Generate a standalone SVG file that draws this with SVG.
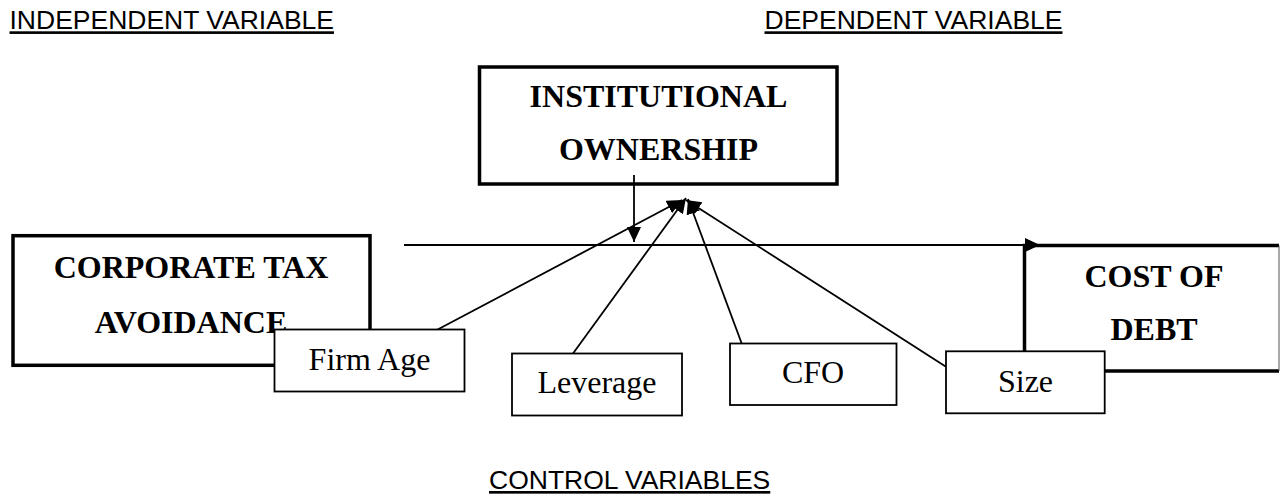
<svg xmlns="http://www.w3.org/2000/svg" width="1281" height="494" viewBox="0 0 1281 494">
<style>
.hdr{font-family:"Liberation Sans",Arial,sans-serif;font-size:26.5px;fill:#000;text-decoration:underline}
.big{font-family:"Liberation Serif","Times New Roman",serif;font-size:32px;font-weight:bold;fill:#000;text-anchor:middle}
.sm{font-family:"Liberation Serif","Times New Roman",serif;font-size:32px;fill:#000;text-anchor:middle}
.bbox{fill:#fff;stroke:#000;stroke-width:3.5}
.sbox{fill:#fff;stroke:#000;stroke-width:1.8}
.ln{fill:none;stroke:#000;stroke-width:1.8}
</style>
<defs>
<marker id="ah" markerUnits="userSpaceOnUse" markerWidth="16" markerHeight="16" refX="15" refY="7" orient="auto">
<path d="M0,0 L15,7 L0,14 Z" fill="#000"/>
</marker>
</defs>
<rect width="1281" height="494" fill="#fff"/>
<g id="headers">
<text class="hdr" x="9.5" y="29.3">INDEPENDENT VARIABLE</text>
<text class="hdr" x="764.5" y="29.3">DEPENDENT VARIABLE</text>
<text class="hdr" x="489" y="489">CONTROL VARIABLES</text>
</g>
<g id="corporate-tax-avoidance">
<rect class="bbox" x="13" y="235.7" width="357" height="129.6"/>
<text class="big" x="191" y="278">CORPORATE TAX</text>
<text class="big" x="191" y="333">AVOIDANCE</text>
</g>
<g id="institutional-ownership">
<rect class="bbox" x="479.5" y="67" width="357.5" height="117"/>
<text class="big" x="658.5" y="107">INSTITUTIONAL</text>
<text class="big" x="658.5" y="160">OWNERSHIP</text>
</g>
<g id="cost-of-debt">
<path d="M1279,245.5 L1024.5,245.5 L1024.5,371 L1279,371" fill="#fff" stroke="#000" stroke-width="3.5"/>
<line x1="1279" y1="245.5" x2="1279" y2="371" stroke="#555" stroke-width="1"/>
<text class="big" x="1154" y="286.7">COST OF</text>
<text class="big" x="1154" y="340">DEBT</text>
</g>
<g id="connectors">
<line class="ln" x1="404" y1="245" x2="1040" y2="245" stroke-width="1.5" marker-end="url(#ah)"/>
<line class="ln" x1="634" y1="175" x2="634" y2="242" stroke-width="1.5" marker-end="url(#ah)"/>
<line class="ln" x1="437.7" y1="329.5" x2="682" y2="200" marker-end="url(#ah)"/>
<line class="ln" x1="573" y1="353.5" x2="686" y2="198" marker-end="url(#ah)"/>
<line class="ln" x1="741.7" y1="343.5" x2="688" y2="199" marker-end="url(#ah)"/>
<line class="ln" x1="946" y1="366.7" x2="686" y2="200" marker-end="url(#ah)"/>
</g>
<g id="firm-age">
<rect class="sbox" x="274.5" y="329.5" width="190" height="62"/>
<text class="sm" x="369.5" y="370">Firm Age</text>
</g>
<g id="leverage">
<rect class="sbox" x="512" y="353.5" width="170" height="62"/>
<text class="sm" x="597" y="393">Leverage</text>
</g>
<g id="cfo">
<rect class="sbox" x="730" y="343.5" width="166.5" height="61.5"/>
<text class="sm" x="813" y="383">CFO</text>
</g>
<g id="size">
<rect class="sbox" x="946" y="351.3" width="158.7" height="62"/>
<text class="sm" x="1025.5" y="391.7">Size</text>
</g>
</svg>
